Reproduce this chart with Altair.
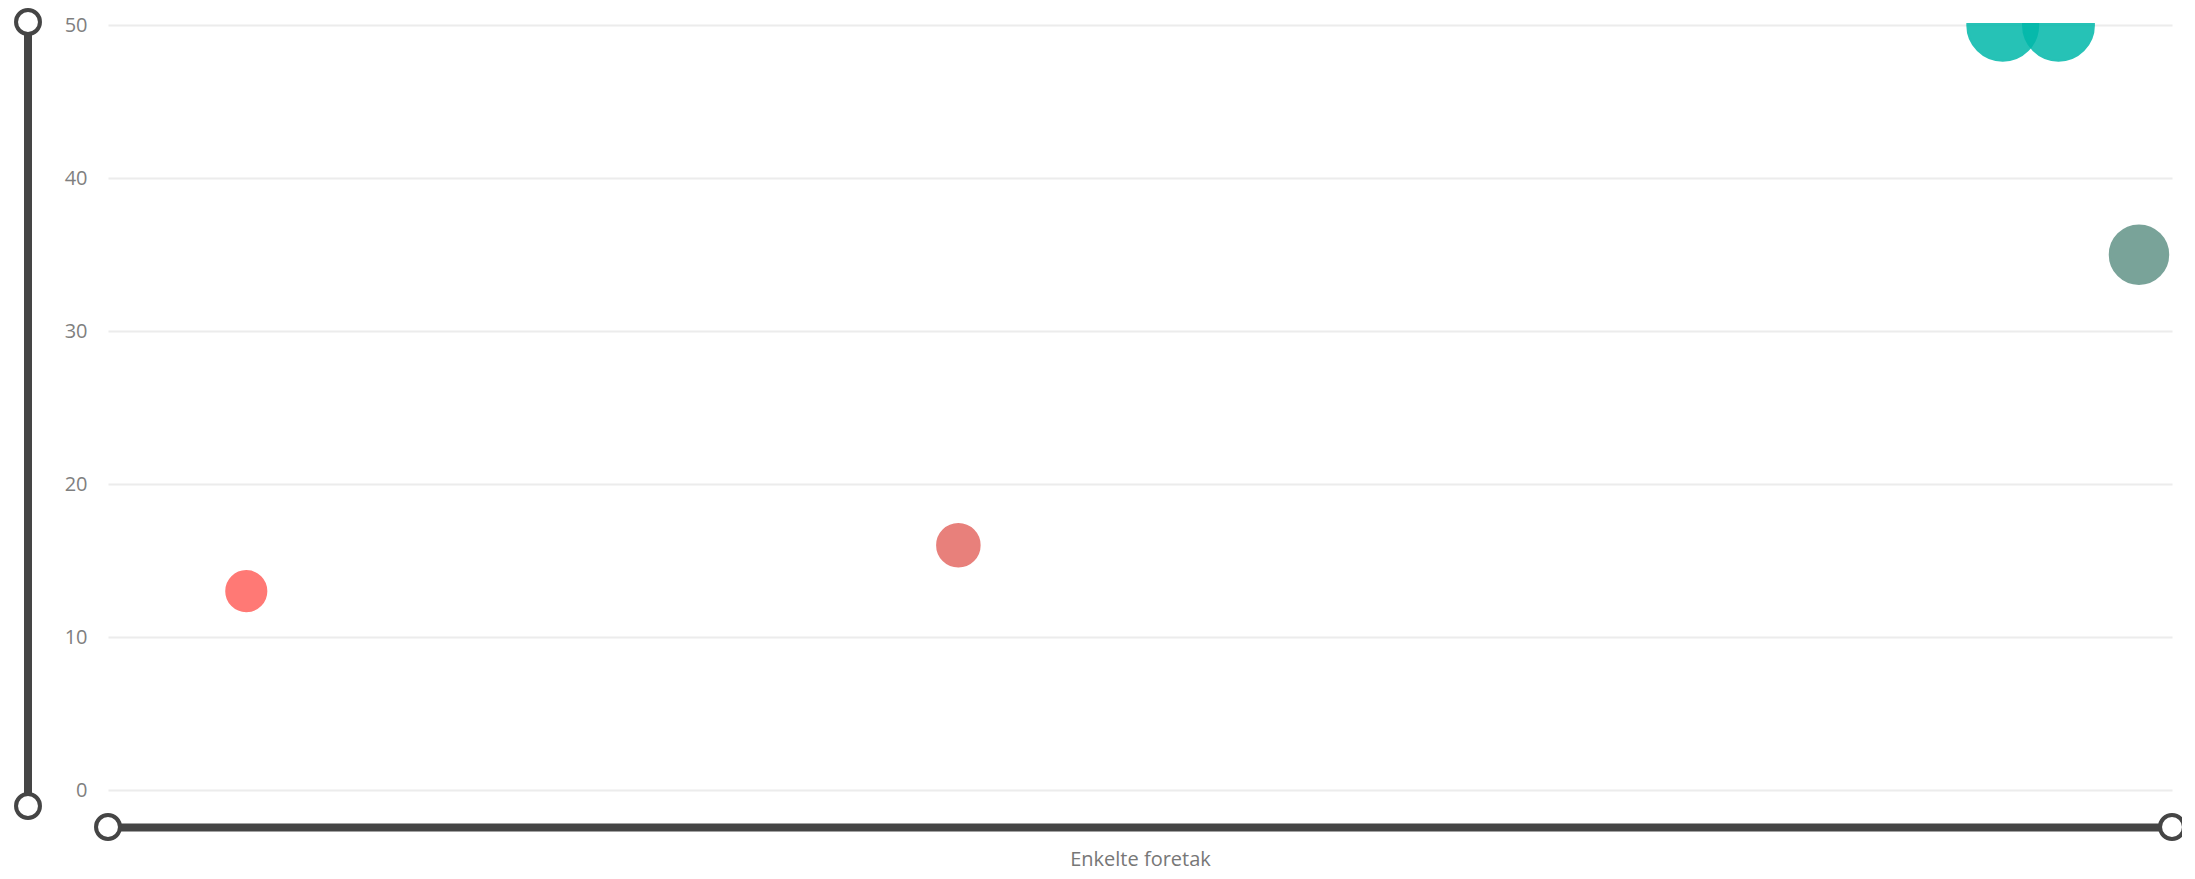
import altair as alt
import pandas as pd

# Data
companies = ["Foretak 1", "Foretak 2", "Foretak 3", "Foretak 4", "Foretak 5"]
groups = ["Rød", "Rødlig", "Grønn", "Grønn", "Grågrønn"]
x_vals = [6.7, 41.2, 91.8, 94.5, 98.4]
y_vals = [13, 16, 50, 50, 35]
bubble_vals = [16, 18, 50, 50, 34]
y_ticks = [0, 10, 20, 30, 40, 50]

group_domain = ["Rød", "Rødlig", "Grønn", "Grågrønn"]
group_colors = ["#FF625D", "#E46A65", "#01B8AA", "#629388"]

df = pd.DataFrame({
    "Foretak": companies,
    "Gruppe": groups,
    "X": x_vals,
    "Y": y_vals,
    "Størrelse": bubble_vals,
})

W, H = 2064, 767
SLIDER = "#454545"
FONT = "Open Sans"

points = alt.Chart(df).mark_circle(
    opacity=0.85, strokeWidth=2, clip=True
).encode(
    x=alt.X("X:Q", scale=alt.Scale(domain=[0, 100], nice=False),
            axis=alt.Axis(title="Enkelte foretak", labels=False, ticks=False,
                          domain=False, grid=False, titleFont=FONT,
                          titleFontSize=20, titleFontWeight="normal",
                          titleColor="#777777", titleBaseline="alphabetic",
                          titlePadding=75)),
    y=alt.Y("Y:Q", scale=alt.Scale(domain=[0, 50.15], nice=False),
            axis=alt.Axis(title=None, values=y_ticks, ticks=False, domain=False,
                          labelFont=FONT, labelFontSize=20, labelColor="#7F7F7F",
                          labelPadding=21, gridColor="#ECECEC", gridWidth=2)),
    size=alt.Size("Størrelse:Q", scale=alt.Scale(domain=[0, 50], range=[0, 5027]),
                  legend=None),
    color=alt.Color("Gruppe:N", scale=alt.Scale(domain=group_domain, range=group_colors),
                    legend=None),
    stroke=alt.Stroke("Gruppe:N", scale=alt.Scale(domain=group_domain, range=group_colors),
                      legend=None),
    tooltip=["Foretak", "X", "Y", "Størrelse"],
)

one = pd.DataFrame({"k": [0]})

v_bar = alt.Chart(one).mark_rule(color=SLIDER, strokeWidth=8).encode(
    x=alt.value(-80), y=alt.value(-1), y2=alt.value(783))
h_bar = alt.Chart(one).mark_rule(color=SLIDER, strokeWidth=8).encode(
    y=alt.value(804.5), x=alt.value(0), x2=alt.value(2064))

knob = dict(shape="circle", filled=False, fill="white", fillOpacity=1,
            stroke=SLIDER, strokeWidth=4, size=573, opacity=1)
k1 = alt.Chart(one).mark_point(**knob).encode(x=alt.value(-80), y=alt.value(-1))
k2 = alt.Chart(one).mark_point(**knob).encode(x=alt.value(-80), y=alt.value(783))
k3 = alt.Chart(one).mark_point(**knob).encode(x=alt.value(0), y=alt.value(804))
k4 = alt.Chart(one).mark_point(**knob).encode(x=alt.value(2064), y=alt.value(804))

chart = alt.layer(points, v_bar, h_bar, k1, k2, k3, k4).properties(
    width=W, height=H,
    autosize=alt.AutoSizeParams(type="none"),
    padding={"left": 100, "top": 15, "right": 10, "bottom": 81},
    background="white",
).configure_view(stroke=None)

chart.save("out.html", embed_options={"renderer": "svg", "actions": False})
